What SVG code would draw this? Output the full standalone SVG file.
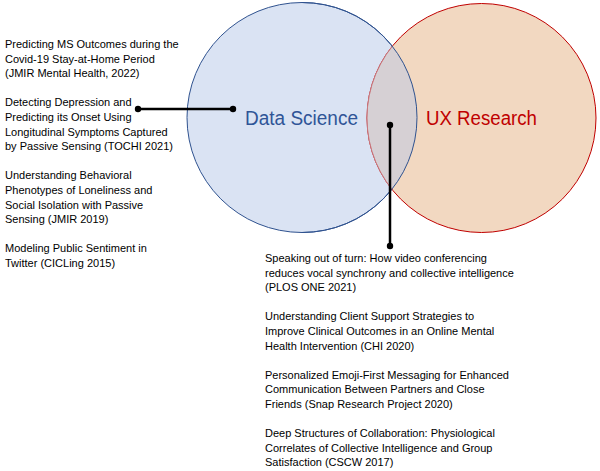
<svg xmlns="http://www.w3.org/2000/svg" width="600" height="471" viewBox="0 0 600 471">
<style>
.t{font-family:"Liberation Sans",Arial,sans-serif;font-size:11px;fill:#000}
.lbl{font-family:"Liberation Sans",Arial,sans-serif;font-size:20px}
.ln{stroke:#000;stroke-width:2.5;fill:none}
.dot{fill:#000}
</style>
<defs>
<clipPath id="clipL"><circle cx="302" cy="117.5" r="115"/></clipPath>
</defs>
<rect width="600" height="471" fill="#fff"/>
<g id="data-science">
<circle cx="302" cy="117.5" r="115" fill="#dae3f3" stroke="#2f528f" stroke-width="1"/>
</g>
<g id="ux-research">
<circle cx="481.5" cy="118" r="114.5" fill="#f2d8c1" stroke="#c00000" stroke-width="1"/>
</g>
<g id="overlap">
<circle cx="481.5" cy="118" r="114.5" fill="#d6d0d4" clip-path="url(#clipL)"/>
<circle cx="481.5" cy="118" r="114.5" fill="none" stroke="#c87a80" stroke-width="1" clip-path="url(#clipL)"/>
<path d="M 417 117.5 A 115 115 0 0 1 302 232.5" fill="none" stroke="#2f528f" stroke-width="1"/>
<path d="M 302 2.5 A 115 115 0 0 1 417 117.5" fill="none" stroke="#2f528f" stroke-width="1"/>
</g>
<g id="labels">
<text class="lbl" x="245" y="125" fill="#2f5597" textLength="113" lengthAdjust="spacingAndGlyphs">Data Science</text>
<text class="lbl" x="426" y="125" fill="#c00000" textLength="111" lengthAdjust="spacingAndGlyphs">UX Research</text>
</g>
<g id="connectors">
<line class="ln" x1="138" y1="109" x2="233" y2="109"/>
<circle class="dot" cx="138" cy="109" r="3.2"/>
<circle class="dot" cx="233" cy="109" r="3.2"/>
<line class="ln" x1="390" y1="125" x2="390" y2="246"/>
<circle class="dot" cx="390" cy="125" r="3.2"/>
<circle class="dot" cx="390" cy="246" r="3.2"/>
</g>
<g id="ds-papers">
<text class="t" x="5" y="48">Predicting MS Outcomes during the</text>
<text class="t" x="5" y="62.6">Covid-19 Stay-at-Home Period</text>
<text class="t" x="5" y="77.2">(JMIR Mental Health, 2022)</text>
<text class="t" x="5" y="106.4">Detecting Depression and</text>
<text class="t" x="5" y="121">Predicting its Onset Using</text>
<text class="t" x="5" y="135.6">Longitudinal Symptoms Captured</text>
<text class="t" x="5" y="150.2">by Passive Sensing (TOCHI 2021)</text>
<text class="t" x="5" y="179.4">Understanding Behavioral</text>
<text class="t" x="5" y="194">Phenotypes of Loneliness and</text>
<text class="t" x="5" y="208.6">Social Isolation with Passive</text>
<text class="t" x="5" y="223.2">Sensing (JMIR 2019)</text>
<text class="t" x="5" y="252.4">Modeling Public Sentiment in</text>
<text class="t" x="5" y="267">Twitter (CICLing 2015)</text>
</g>
<g id="overlap-papers">
<text class="t" x="265" y="262">Speaking out of turn: How video conferencing</text>
<text class="t" x="265" y="276.6">reduces vocal synchrony and collective intelligence</text>
<text class="t" x="265" y="291.2">(PLOS ONE 2021)</text>
<text class="t" x="265" y="320.4">Understanding Client Support Strategies to</text>
<text class="t" x="265" y="335">Improve Clinical Outcomes in an Online Mental</text>
<text class="t" x="265" y="349.6">Health Intervention (CHI 2020)</text>
<text class="t" x="265" y="378.8">Personalized Emoji-First Messaging for Enhanced</text>
<text class="t" x="265" y="393.4">Communication Between Partners and Close</text>
<text class="t" x="265" y="408">Friends (Snap Research Project 2020)</text>
<text class="t" x="265" y="437.2">Deep Structures of Collaboration: Physiological</text>
<text class="t" x="265" y="451.8">Correlates of Collective Intelligence and Group</text>
<text class="t" x="265" y="466.4">Satisfaction (CSCW 2017)</text>
</g>
</svg>
